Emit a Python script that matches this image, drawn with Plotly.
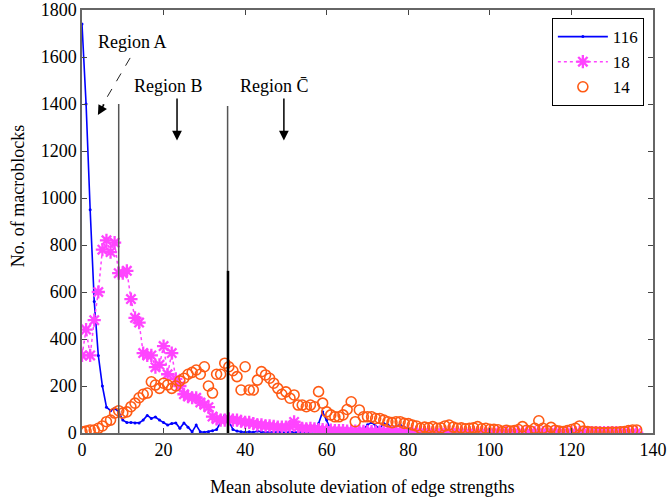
import plotly.graph_objects as go

x_vals = list(range(0, 137))

blue_116 = [1740, 1400, 950, 560, 330, 200, 110, 95, 105, 90,
            55, 45, 45, 43, 43, 55, 75, 62, 68, 55,
            45, 34, 40, 43, 20, 43, 25, 5, 34, 5,
            3, 5, 10, 15, 45, 75, 50, 15, 8, 5,
            3, 5, 3, 8, 5, 3, 5, 3, 5, 3,
            2, 5, 3, 3, 5, 3, 2, 10, 40, 90,
            55, 15, 10, 8, 20, 12, 8, 15, 10, 15,
            35, 45, 30, 20, 40, 35, 20, 30, 35, 25,
            20, 10, 5, 3, 2, 2, 1, 2, 1, 1,
            1, 2, 1, 1, 1, 1, 0, 1, 1, 0,
            1, 0, 1, 0, 0, 1, 0, 0, 1, 0,
            0, 0, 1, 0, 0, 0, 1, 0, 0, 0,
            0, 1, 0, 0, 0, 0, 0, 0, 0, 0,
            0, 0, 0, 0, 0, 0, 0]

magenta_18 = [330, 440, 330, 480, 600, 780, 820, 770, 810, 680,
              680, 690, 570, 490, 470, 340, 330, 330, 280, 290,
              370, 250, 340, 230, 200, 165, 155, 150, 150, 130,
              120, 110, 70, 60, 55, 55, 60, 55, 55, 50,
              45, 45, 40, 35, 35, 30, 30, 28, 25, 25,
              25, 28, 47, 25, 20, 18, 20, 18, 15, 14,
              12, 12, 10, 10, 10, 8, 8, 8, 7, 7,
              6, 6, 5, 5, 5, 5, 4, 4, 4, 4,
              3, 3, 3, 3, 3, 3, 3, 2, 3, 2,
              2, 3, 2, 2, 2, 2, 2, 2, 2, 2,
              2, 2, 2, 2, 2, 2, 2, 2, 2, 2,
              2, 2, 2, 2, 2, 2, 2, 2, 2, 2,
              2, 2, 2, 2, 2, 2, 2, 2, 2, 2,
              2, 2, 2, 2, 2, 2, 2]

orange_14 = [5, 8, 13, 13, 20, 30, 48, 55, 85, 95,
             85, 90, 112, 127, 150, 165, 170, 218, 204, 190,
             212, 205, 190, 200, 222, 233, 250, 258, 268, 250,
             282, 200, 170, 250, 250, 297, 282, 265, 240, 183,
             282, 183, 183, 225, 261, 247, 233, 212, 190, 165,
             175, 148, 162, 119, 119, 112, 119, 112, 176, 127,
             90, 77, 69, 69, 77, 100, 133, 48, 98, 69,
             69, 69, 62, 62, 55, 48, 44, 48, 48, 41,
             40, 34, 30, 20, 25, 22, 27, 20, 22, 30,
             34, 25, 20, 22, 18, 20, 22, 27, 18, 20,
             16, 16, 14, 6, 12, 8, 10, 15, 27, 12,
             8, 20, 52, 20, 10, 24, 12, 8, 6, 10,
             15, 20, 30, 8, 6, 4, 4, 3, 2, 3,
             4, 3, 5, 6, 10, 13, 13]

legend_names = ["116", "18", "14"]
x_ticks = [0, 20, 40, 60, 80, 100, 120, 140]
y_ticks = [0, 200, 400, 600, 800, 1000, 1200, 1400, 1600, 1800]

FONT = "Liberation Serif, Times New Roman, serif"

fig = go.Figure()
fig.add_trace(go.Scatter(
    x=x_vals, y=blue_116, name=legend_names[0], mode="lines+markers",
    line=dict(color="#0000ff", width=1.6),
    marker=dict(symbol="circle", size=3, color="#0000ff")))
fig.add_trace(go.Scatter(
    x=x_vals, y=magenta_18, name=legend_names[1], mode="lines+markers",
    line=dict(color="#ff44ff", width=1.5, dash="dot"),
    marker=dict(symbol="asterisk-open", size=11, color="#ff44ff",
                line=dict(color="#ff44ff", width=2.3))))
fig.add_trace(go.Scatter(
    x=x_vals, y=orange_14, name=legend_names[2], mode="markers",
    marker=dict(symbol="circle-open", size=10, color="#ff5a14",
                line=dict(color="#ff5a14", width=1.6))))

shapes = [
    dict(type="line", xref="x", yref="y", x0=9.0, x1=9.0, y0=0, y1=1400,
         line=dict(color="#555555", width=1.5), layer="above"),
    dict(type="line", xref="x", yref="y", x0=35.7, x1=35.7, y0=0, y1=1391,
         line=dict(color="#555555", width=1.5), layer="above"),
    dict(type="line", xref="x", yref="y", x0=35.8, x1=35.8, y0=0, y1=690,
         line=dict(color="#000000", width=2.5), layer="above"),
    dict(type="line", xref="x", yref="y", x0=11.8, x1=5.0, y0=1596, y1=1395,
         line=dict(color="#222222", width=1, dash="dash"), layer="above"),
]

annotations = [
    dict(text="Region A", x=12.3, y=1662, xref="x", yref="y", showarrow=False,
         font=dict(family=FONT, size=18, color="black")),
    dict(text="Region B", x=21.3, y=1478, xref="x", yref="y", showarrow=False,
         font=dict(family=FONT, size=18, color="black")),
    dict(text="Region C\u0304", x=47.2, y=1478, xref="x", yref="y", showarrow=False,
         font=dict(family=FONT, size=18, color="black")),
    dict(text="", x=3.9, y=1353, ax=5.6, ay=1405, xref="x", yref="y",
         axref="x", ayref="y", showarrow=True, arrowhead=2, arrowsize=1.3,
         arrowwidth=1.5, arrowcolor="black"),
    dict(text="", x=23.3, y=1245, ax=23.3, ay=1430, xref="x", yref="y",
         axref="x", ayref="y", showarrow=True, arrowhead=2, arrowsize=1.3,
         arrowwidth=1.5, arrowcolor="black"),
    dict(text="", x=49.5, y=1245, ax=49.5, ay=1430, xref="x", yref="y",
         axref="x", ayref="y", showarrow=True, arrowhead=2, arrowsize=1.3,
         arrowwidth=1.5, arrowcolor="black"),
    dict(text="Mean absolute deviation of edge strengths", x=0.49, y=-0.128,
         xref="paper", yref="paper", xanchor="center", yanchor="middle",
         showarrow=False, font=dict(family=FONT, size=18, color="black")),
    dict(text="No. of macroblocks", x=-0.112, y=0.56, xref="paper", yref="paper",
         xanchor="center", yanchor="middle", textangle=-90,
         showarrow=False, font=dict(family=FONT, size=18, color="black")),
]

fig.update_layout(
    width=668, height=499,
    margin=dict(l=82, r=15, t=10, b=66, autoexpand=False),
    paper_bgcolor="white", plot_bgcolor="white",
    font=dict(family=FONT, size=18, color="black"),
    showlegend=True,
    legend=dict(x=0.984, y=0.981, xanchor="right", yanchor="top",
                bgcolor="white", bordercolor="black", borderwidth=1,
                font=dict(family=FONT, size=17, color="black"),
                itemwidth=50, tracegroupgap=0),
    shapes=shapes,
    annotations=annotations,
)
fig.update_xaxes(range=[0, 140], tickvals=x_ticks, ticks="inside", ticklen=5,
                 tickcolor="#444444", showline=True, linecolor="#666666",
                 linewidth=1.5, mirror="ticks", showgrid=False, automargin=False,
                 zeroline=True, zerolinecolor="black", zerolinewidth=2.5)
fig.update_yaxes(range=[0, 1800], tickvals=y_ticks, ticks="inside", ticklen=5,
                 tickcolor="#444444", showline=True, linecolor="#666666",
                 linewidth=1.5, mirror="ticks", showgrid=False, automargin=False,
                 zeroline=True, zerolinecolor="black", zerolinewidth=2)

fig.write_html("out.html",
               config={"displayModeBar": False},
               post_script="document.body.style.margin='0';document.body.style.padding='0';")
